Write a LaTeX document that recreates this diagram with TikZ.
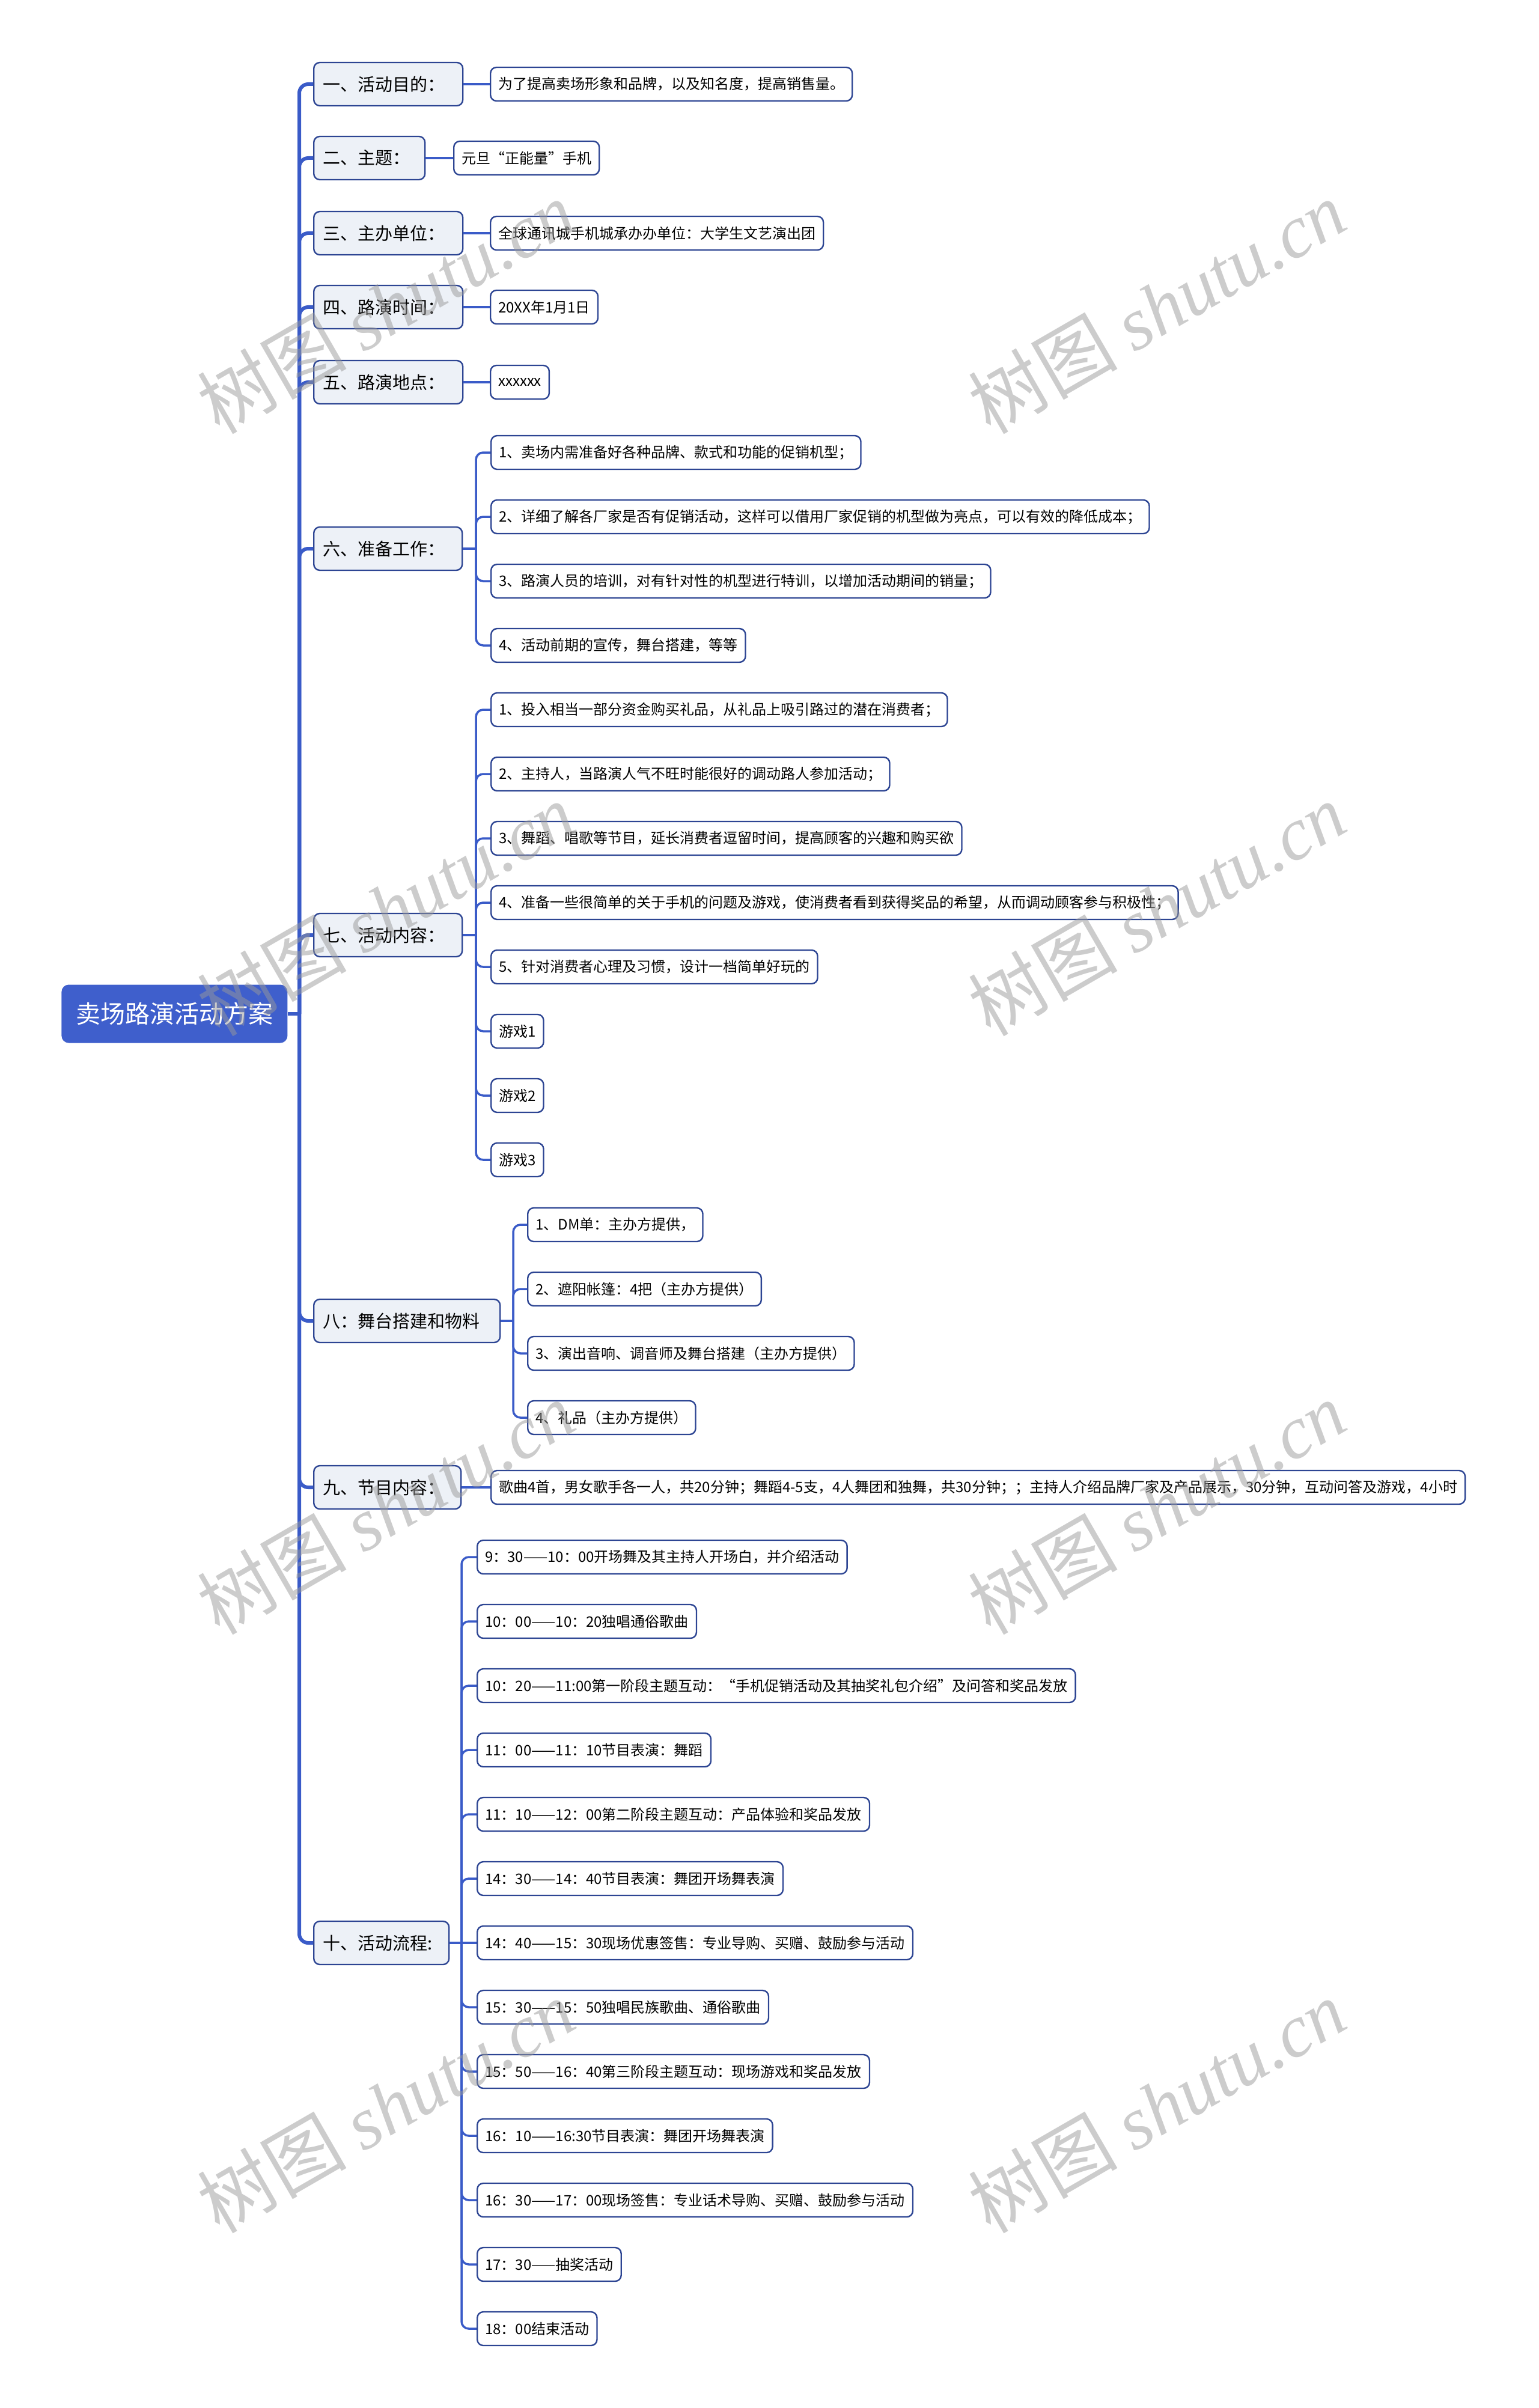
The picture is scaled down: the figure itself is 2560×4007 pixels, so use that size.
\documentclass[tikz,border=0pt]{standalone}
\usepackage{fontspec}
\setmainfont{Noto Sans CJK SC}
\newfontfamily\markfont{Liberation Serif}
\usetikzlibrary{positioning}

\definecolor{linkblue}{HTML}{3A5BC8}
\definecolor{boxnavy}{HTML}{2D4593}
\definecolor{rootblue}{HTML}{3F5FCC}
\definecolor{topicfill}{HTML}{EDF1F7}

\begin{document}
\begin{tikzpicture}[
  x=0.5pt, y=-0.5pt,
  every node/.style={inner sep=0pt},
  root/.style={rectangle, fill=rootblue, rounded corners=6pt, minimum width=188pt, minimum height=48.5pt, font=\fontsize{20.5}{24}\selectfont, text=white, anchor=west},
  topic/.style={rectangle, draw=boxnavy, line width=1.2pt, fill=topicfill, rounded corners=5pt, minimum height=36pt, inner xsep=7.5pt, text width=#1, align=left, font=\fontsize{14.5}{17}\selectfont, anchor=west},
  leaf/.style={rectangle, draw=boxnavy, line width=1.2pt, fill=white, rounded corners=5pt, minimum height=28pt, inner xsep=6.5pt, font=\fontsize{12}{14}\selectfont, anchor=west},
  trunk/.style={draw=linkblue, line width=3pt, rounded corners=7.5pt},
  twig/.style={draw=linkblue, line width=1.75pt, rounded corners=6pt},
  wmark/.style={rotate=30, text=black!40, opacity=0.5, font=\fontsize{62}{66}\selectfont},
]
\useasboundingbox (0,0) rectangle (2560,4007);

% root and first level
\node[root] (plan) at (102,1687) {卖场路演活动方案};

\node[topic=109pt] (aim) at (521,140) {一、活动目的：};
\node[topic=77.5pt] (theme) at (521,263) {二、主题：};
\node[topic=109pt] (host) at (521,388) {三、主办单位：};
\node[topic=109pt] (date) at (521,511) {四、路演时间：};
\node[topic=109pt] (venue) at (521,636) {五、路演地点：};
\node[topic=108.5pt] (prep) at (521,913) {六、准备工作：};
\node[topic=108.5pt] (content) at (521,1556) {七、活动内容：};
\node[topic=140pt] (stage) at (521,2198) {八：舞台搭建和物料};
\node[topic=107.5pt] (show) at (521,2475) {九、节目内容：};
\node[topic=97.5pt] (flow) at (521,3233) {十、活动流程:};

% single leaves
\node[leaf] (aimtxt) at (815,140) {为了提高卖场形象和品牌，以及知名度，提高销售量。};
\node[leaf] (themetxt) at (754,263) {元旦“正能量”手机};
\node[leaf] (hosttxt) at (815,388) {全球通讯城手机城承办办单位：大学生文艺演出团};
\node[leaf] (datetxt) at (815,511) {20XX年1月1日};
\node[leaf] (venuetxt) at (815,636) {xxxxxx};
\node[leaf] (showtxt) at (816,2475) {歌曲4首，男女歌手各一人，共20分钟；舞蹈4-5支，4人舞团和独舞，共30分钟；；主持人介绍品牌厂家及产品展示，30分钟，互动问答及游戏，4小时};

% preparation
\node[leaf] (prep1) at (816,753) {1、卖场内需准备好各种品牌、款式和功能的促销机型；};
\node[leaf] (prep2) at (816,860) {2、详细了解各厂家是否有促销活动，这样可以借用厂家促销的机型做为亮点，可以有效的降低成本；};
\node[leaf] (prep3) at (816,967) {3、路演人员的培训，对有针对性的机型进行特训，以增加活动期间的销量；};
\node[leaf] (prep4) at (816,1074) {4、活动前期的宣传，舞台搭建，等等};

% activity content
\node[leaf] (cont1) at (816,1181) {1、投入相当一部分资金购买礼品，从礼品上吸引路过的潜在消费者；};
\node[leaf] (cont2) at (816,1288) {2、主持人，当路演人气不旺时能很好的调动路人参加活动；};
\node[leaf] (cont3) at (816,1395) {3、舞蹈、唱歌等节目，延长消费者逗留时间，提高顾客的兴趣和购买欲};
\node[leaf] (cont4) at (816,1502) {4、准备一些很简单的关于手机的问题及游戏，使消费者看到获得奖品的希望，从而调动顾客参与积极性；};
\node[leaf] (cont5) at (816,1609) {5、针对消费者心理及习惯，设计一档简单好玩的};
\node[leaf] (cont6) at (816,1716) {游戏1};
\node[leaf] (cont7) at (816,1823) {游戏2};
\node[leaf] (cont8) at (816,1930) {游戏3};

% stage and material
\node[leaf] (stage1) at (877,2038) {1、DM单：主办方提供，};
\node[leaf] (stage2) at (877,2145) {2、遮阳帐篷：4把（主办方提供）};
\node[leaf] (stage3) at (877,2252) {3、演出音响、调音师及舞台搭建（主办方提供）};
\node[leaf] (stage4) at (877,2359) {4、礼品（主办方提供）};

% schedule
\node[leaf] (flow1) at (793,2591) {9：30——10：00开场舞及其主持人开场白，并介绍活动};
\node[leaf] (flow2) at (793,2698) {10：00——10：20独唱通俗歌曲};
\node[leaf] (flow3) at (793,2805) {10：20——11:00第一阶段主题互动：“手机促销活动及其抽奖礼包介绍”及问答和奖品发放};
\node[leaf] (flow4) at (793,2912) {11：00——11：10节目表演：舞蹈};
\node[leaf] (flow5) at (793,3019) {11：10——12：00第二阶段主题互动：产品体验和奖品发放};
\node[leaf] (flow6) at (793,3126) {14：30——14：40节目表演：舞团开场舞表演};
\node[leaf] (flow7) at (793,3233) {14：40——15：30现场优惠签售：专业导购、买赠、鼓励参与活动};
\node[leaf] (flow8) at (793,3340) {15：30——15：50独唱民族歌曲、通俗歌曲};
\node[leaf] (flow9) at (793,3447) {15：50——16：40第三阶段主题互动：现场游戏和奖品发放};
\node[leaf] (flow10) at (793,3554) {16：10——16:30节目表演：舞团开场舞表演};
\node[leaf] (flow11) at (793,3661) {16：30——17：00现场签售：专业话术导购、买赠、鼓励参与活动};
\node[leaf] (flow12) at (793,3768) {17：30——抽奖活动};
\node[leaf] (flow13) at (793,3875) {18：00结束活动};

% junctions
\coordinate (rootj) at (498,1687);
\coordinate (prepj) at (792,913);
\coordinate (contentj) at (792,1556);
\coordinate (stagej) at (854,2198);
\coordinate (flowj) at (768,3233);

% main trunk
\draw[trunk] (plan.east) -- (rootj);
\draw[trunk] (rootj) |- (aim.west);
\draw[trunk] (rootj) |- (theme.west);
\draw[trunk] (rootj) |- (host.west);
\draw[trunk] (rootj) |- (date.west);
\draw[trunk] (rootj) |- (venue.west);
\draw[trunk] (rootj) |- (prep.west);
\draw[trunk] (rootj) |- (content.west);
\draw[trunk] (rootj) |- (stage.west);
\draw[trunk] (rootj) |- (show.west);
\draw[trunk] (rootj) |- (flow.west);

% straight twigs
\draw[twig] (aim.east) -- (aimtxt.west);
\draw[twig] (theme.east) -- (themetxt.west);
\draw[twig] (host.east) -- (hosttxt.west);
\draw[twig] (date.east) -- (datetxt.west);
\draw[twig] (venue.east) -- (venuetxt.west);
\draw[twig] (show.east) -- (showtxt.west);

% preparation twigs
\draw[twig] (prep.east) -- (prepj);
\draw[twig] (prepj) |- (prep1.west);
\draw[twig] (prepj) |- (prep2.west);
\draw[twig] (prepj) |- (prep3.west);
\draw[twig] (prepj) |- (prep4.west);

% content twigs
\draw[twig] (content.east) -- (contentj);
\draw[twig] (contentj) |- (cont1.west);
\draw[twig] (contentj) |- (cont2.west);
\draw[twig] (contentj) |- (cont3.west);
\draw[twig] (contentj) |- (cont4.west);
\draw[twig] (contentj) |- (cont5.west);
\draw[twig] (contentj) |- (cont6.west);
\draw[twig] (contentj) |- (cont7.west);
\draw[twig] (contentj) |- (cont8.west);

% stage twigs
\draw[twig] (stage.east) -- (stagej);
\draw[twig] (stagej) |- (stage1.west);
\draw[twig] (stagej) |- (stage2.west);
\draw[twig] (stagej) |- (stage3.west);
\draw[twig] (stagej) |- (stage4.west);

% schedule twigs
\draw[twig] (flow.east) -- (flowj);
\draw[twig] (flowj) |- (flow1.west);
\draw[twig] (flowj) |- (flow2.west);
\draw[twig] (flowj) |- (flow3.west);
\draw[twig] (flowj) |- (flow4.west);
\draw[twig] (flowj) |- (flow5.west);
\draw[twig] (flowj) |- (flow6.west);
\draw[twig] (flowj) -- (flow7.west);
\draw[twig] (flowj) |- (flow8.west);
\draw[twig] (flowj) |- (flow9.west);
\draw[twig] (flowj) |- (flow10.west);
\draw[twig] (flowj) |- (flow11.west);
\draw[twig] (flowj) |- (flow12.west);
\draw[twig] (flowj) |- (flow13.west);

% watermarks
\node[wmark] (wm1) at (642,511) {树图 {\markfont\itshape shutu.cn}};
\node[wmark] (wm2) at (1925,511) {树图 {\markfont\itshape shutu.cn}};
\node[wmark] (wm3) at (642,1513) {树图 {\markfont\itshape shutu.cn}};
\node[wmark] (wm4) at (1925,1513) {树图 {\markfont\itshape shutu.cn}};
\node[wmark] (wm5) at (642,2509) {树图 {\markfont\itshape shutu.cn}};
\node[wmark] (wm6) at (1925,2509) {树图 {\markfont\itshape shutu.cn}};
\node[wmark] (wm7) at (642,3505) {树图 {\markfont\itshape shutu.cn}};
\node[wmark] (wm8) at (1925,3505) {树图 {\markfont\itshape shutu.cn}};

\end{tikzpicture}
\end{document}
